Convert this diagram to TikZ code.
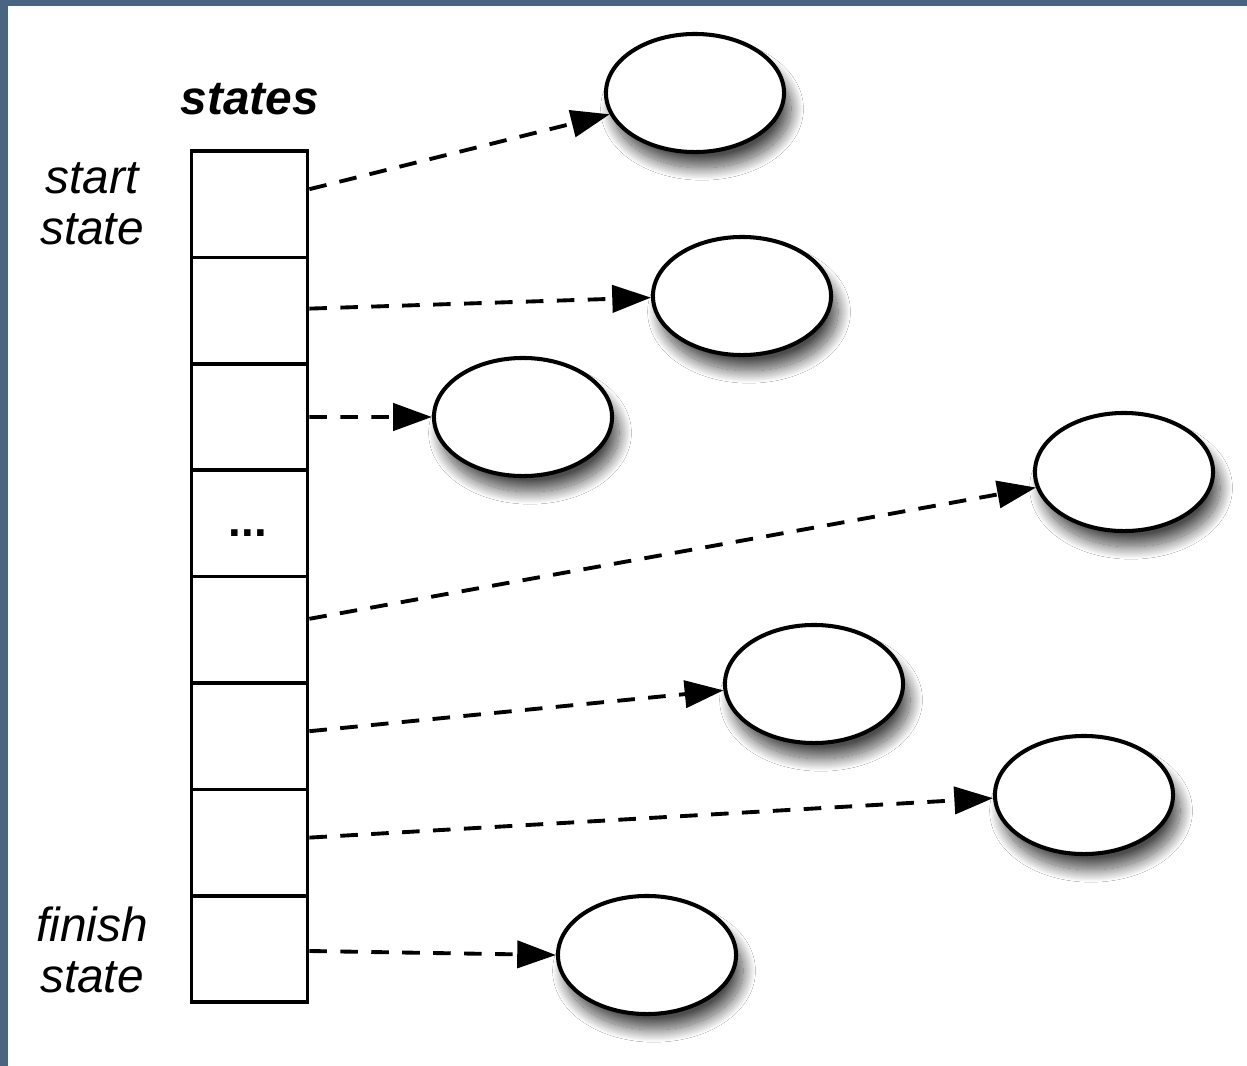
\documentclass[tikz,border=0pt]{standalone}
\usepackage{fontspec}
\setmainfont{Liberation Sans}
\usetikzlibrary{shapes.geometric,arrows.meta,shadows.blur,calc}
\definecolor{framecol}{HTML}{4A6581}
\begin{document}
\begin{tikzpicture}[x=0.01cm,y=-0.01cm,
  cell/.style={draw,line width=1.05pt,rectangle,minimum width=1.16cm,
    minimum height=1.064cm,inner sep=0pt},
  statenode/.style={draw,line width=1.15pt,ellipse,fill=white,minimum width=1.78cm,
    minimum height=1.18cm,inner sep=0pt,
    blur shadow={shadow xshift=2pt,shadow yshift=-4.5pt,shadow blur radius=3.5pt,
      shadow blur steps=25,shadow opacity=70}},
  link/.style={line width=1.1pt,dash pattern=on 5pt off 3.8pt,
    -{Triangle[length=11pt,width=7.7pt]}},
  lbl/.style={font=\fontsize{13.6}{14.6}\selectfont\itshape,align=center,inner sep=0pt}]

% frame and canvas
\fill[framecol] (0,0) rectangle (1247,1066);
\fill[white] (8,6) rectangle (1247,1066);
\useasboundingbox (0,0) rectangle (1247,1066);

% array of states
\foreach \i in {1,...,8}
  \node[cell] (c\i) at (249.5,{151+106.4*(\i-0.5)}) {};
\node[font=\fontsize{13}{14}\selectfont\bfseries,inner sep=0pt] (dots) at (248,533) {...};

% labels
\node[lbl,font=\fontsize{13.6}{14.6}\selectfont\itshape\bfseries] (title) at (250,99) {states};
\node[lbl] (startlbl) at (92,204) {start\\state};
\node[lbl] (finishlbl) at (92,950) {finish\\state};

% state objects
\node[statenode] (e1) at (695,93) {};
\node[statenode] (e2) at (742,296) {};
\node[statenode] (e3) at (523,417) {};
\node[statenode] (e4) at (1124,472) {};
\node[statenode] (e5) at (814,684) {};
\node[statenode] (e6) at (1084,795) {};
\node[statenode] (e7) at (647,955) {};

% references
\draw[link] ($(c1.east)+(0,-15)$) -- (e1.194);
\draw[link] ($(c2.east)+(0,-2)$) -- (e2.181);
\draw[link] (c3.east) -- (e3.180);
\draw[link] ($(c5.east)+(0,-11)$) -- (e4.190);
\draw[link] ($(c6.east)+(0,-5)$) -- (e5.184);
\draw[link] ($(c7.east)+(0,-5)$) -- (e6.182);
\draw[link] ($(c8.east)+(0,2)$) -- (e7.180);
\end{tikzpicture}
\end{document}
